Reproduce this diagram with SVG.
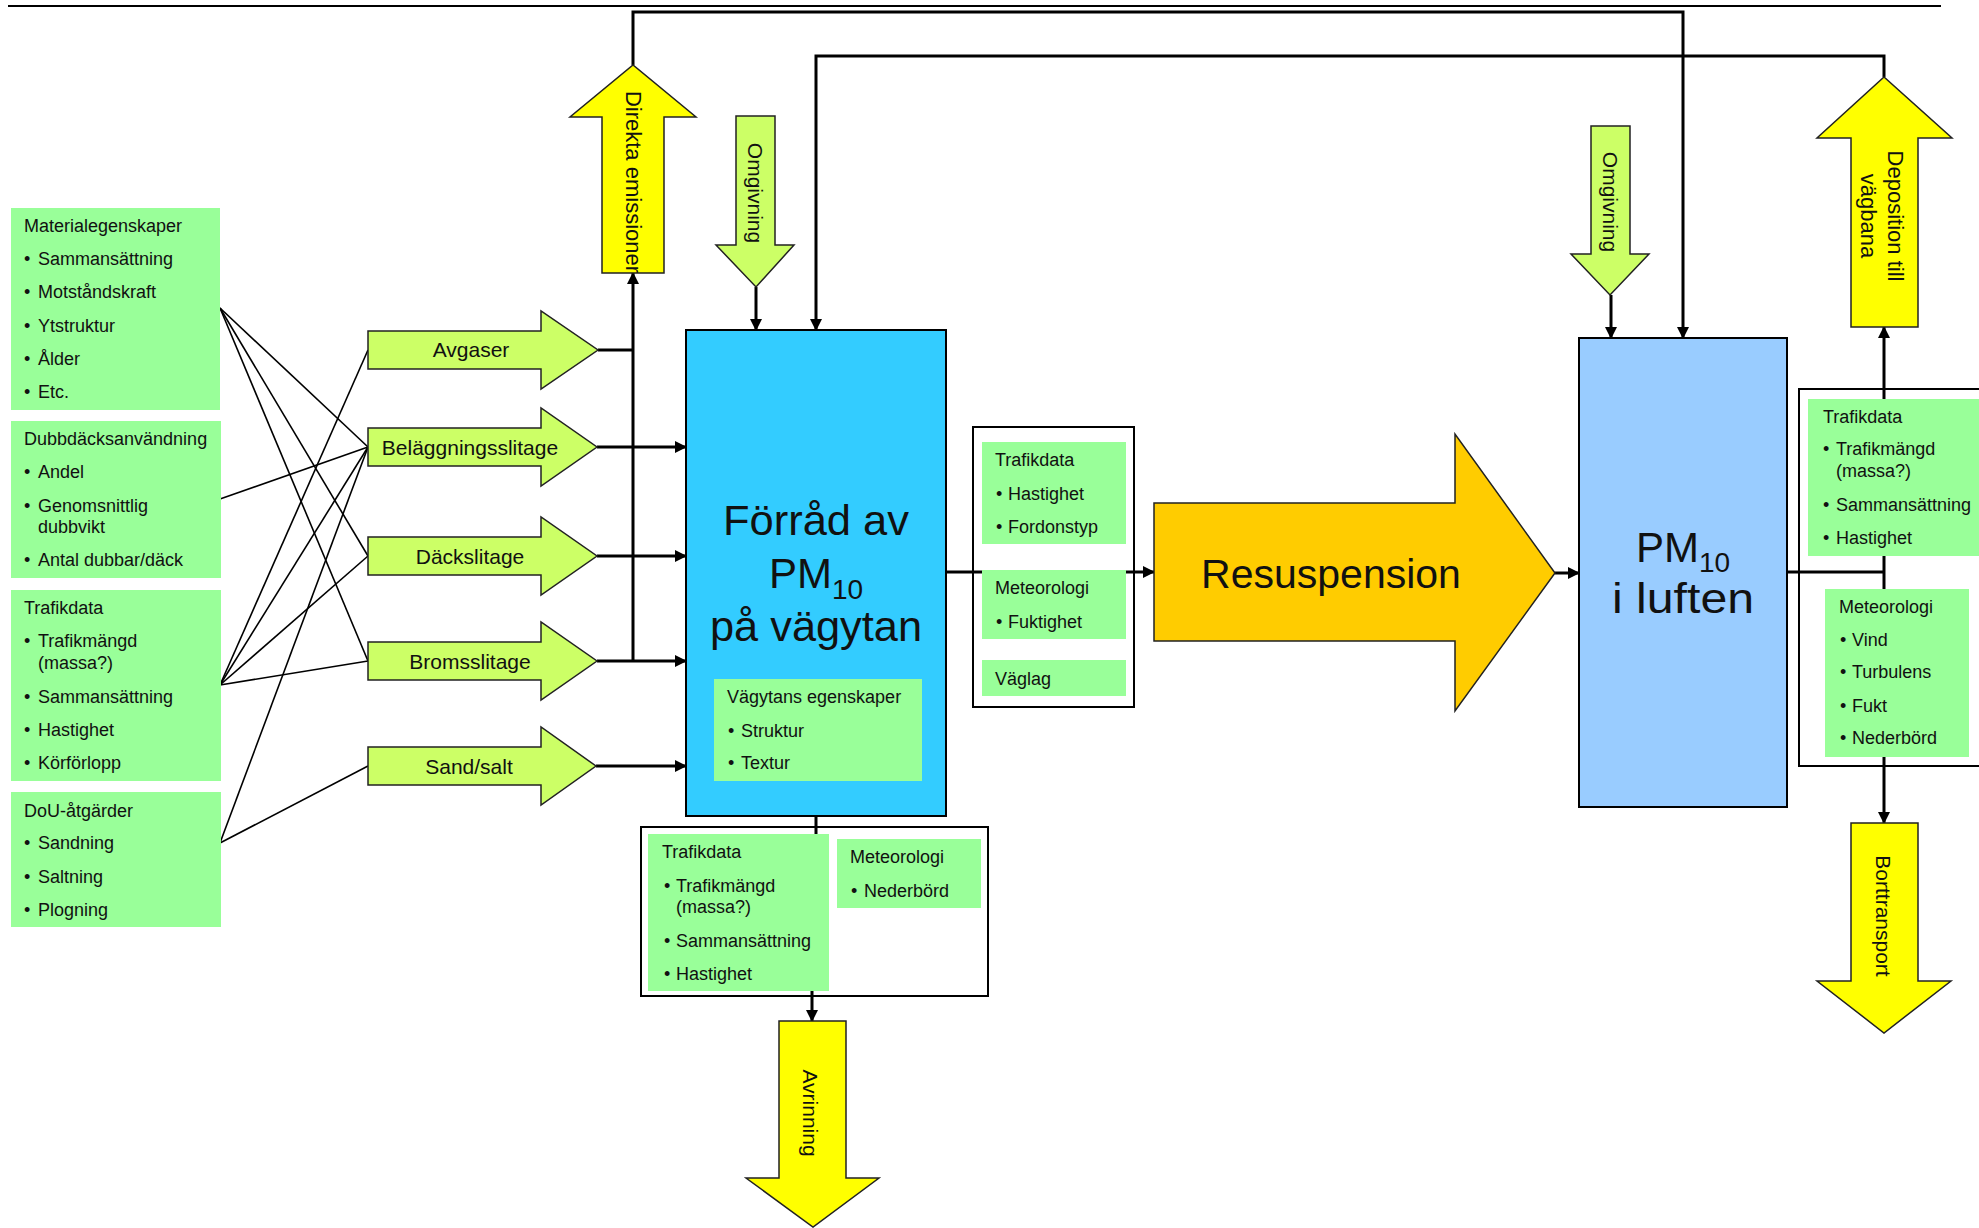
<svg xmlns="http://www.w3.org/2000/svg" width="1979" height="1228" viewBox="0 0 1979 1228">
<defs>
<marker id="ah" markerUnits="userSpaceOnUse" markerWidth="12" markerHeight="12" refX="11" refY="6" orient="auto">
<path d="M0,0 L12,6 L0,12 z" fill="#000"/>
</marker>
<style>
text{font-family:"Liberation Sans",Arial,sans-serif;fill:#111}
.s{font-size:18px}
.a{font-size:21px;text-anchor:middle}
.v{font-size:21px;text-anchor:middle}
.big{font-size:42px;text-anchor:middle}
.gb{fill:#99FF99}
.wb{fill:none;stroke:#000;stroke-width:2}
.ga{fill:#CCFF66;stroke:#222;stroke-width:1.5}
.ya{fill:#FFFF00;stroke:#222;stroke-width:1.5}
.oa{fill:#FFCC00;stroke:#222;stroke-width:1.5}
.c{fill:none;stroke:#000;stroke-width:3}
.ca{fill:none;stroke:#000;stroke-width:3;marker-end:url(#ah)}
.t{fill:none;stroke:#000;stroke-width:1.6}
</style>
</defs>
<rect width="1979" height="1228" fill="#fff"/>
<line x1="8" y1="6" x2="1941" y2="6" stroke="#000" stroke-width="2"/>

<g id="connectors">
<polyline class="ca" points="633,65 633,12 1683,12 1683,338"/>
<polyline class="ca" points="1884,77 1884,56 816,56 816,330"/>
<line class="ca" x1="756" y1="287" x2="756" y2="330"/>
<line class="ca" x1="1611" y1="295" x2="1611" y2="338"/>
<line class="ca" x1="633" y1="662" x2="633" y2="273"/>
<line class="c" x1="598" y1="350" x2="633" y2="350"/>
<line class="ca" x1="597" y1="447" x2="686" y2="447"/>
<line class="ca" x1="597" y1="556" x2="686" y2="556"/>
<line class="ca" x1="597" y1="661" x2="686" y2="661"/>
<line class="ca" x1="596" y1="766" x2="686" y2="766"/>
<line class="ca" x1="946" y1="572" x2="1154" y2="572"/>
<line class="ca" x1="1555" y1="573" x2="1579" y2="573"/>
<line class="c" x1="1787" y1="572" x2="1884" y2="572"/>
<line class="ca" x1="1884" y1="572" x2="1884" y2="327"/>
<line class="ca" x1="1884" y1="572" x2="1884" y2="823"/>
<polyline class="ca" points="816,816 816,900 812,900 812,1021"/>
<line class="t" x1="220" y1="308" x2="368" y2="447"/>
<line class="t" x1="220" y1="308" x2="368" y2="556"/>
<line class="t" x1="220" y1="308" x2="368" y2="661"/>
<line class="t" x1="220" y1="499" x2="368" y2="447"/>
<line class="t" x1="220" y1="685" x2="368" y2="350"/>
<line class="t" x1="220" y1="685" x2="368" y2="447"/>
<line class="t" x1="220" y1="685" x2="368" y2="556"/>
<line class="t" x1="220" y1="685" x2="368" y2="661"/>
<line class="t" x1="220" y1="843" x2="368" y2="447"/>
<line class="t" x1="220" y1="843" x2="368" y2="766"/>
</g>

<g id="materialegenskaper">
<rect class="gb" x="11" y="208" width="209" height="202"/>
<text class="s" x="24" y="232">Materialegenskaper</text>
<text class="s" x="24" y="265">•</text><text class="s" x="38" y="265">Sammansättning</text>
<text class="s" x="24" y="298">•</text><text class="s" x="38" y="298">Motståndskraft</text>
<text class="s" x="24" y="332">•</text><text class="s" x="38" y="332">Ytstruktur</text>
<text class="s" x="24" y="365">•</text><text class="s" x="38" y="365">Ålder</text>
<text class="s" x="24" y="398">•</text><text class="s" x="38" y="398">Etc.</text>
</g>
<g id="dubbdack">
<rect class="gb" x="11" y="421" width="210" height="157"/>
<text class="s" x="24" y="445">Dubbdäcksanvändning</text>
<text class="s" x="24" y="478">•</text><text class="s" x="38" y="478">Andel</text>
<text class="s" x="24" y="512">•</text><text class="s" x="38" y="512">Genomsnittlig</text>
<text class="s" x="38" y="533">dubbvikt</text>
<text class="s" x="24" y="566">•</text><text class="s" x="38" y="566">Antal dubbar/däck</text>
</g>
<g id="trafikdata-left">
<rect class="gb" x="11" y="590" width="210" height="191"/>
<text class="s" x="24" y="614">Trafikdata</text>
<text class="s" x="24" y="647">•</text><text class="s" x="38" y="647">Trafikmängd</text>
<text class="s" x="38" y="669">(massa?)</text>
<text class="s" x="24" y="703">•</text><text class="s" x="38" y="703">Sammansättning</text>
<text class="s" x="24" y="736">•</text><text class="s" x="38" y="736">Hastighet</text>
<text class="s" x="24" y="769">•</text><text class="s" x="38" y="769">Körförlopp</text>
</g>
<g id="dou">
<rect class="gb" x="11" y="792" width="210" height="135"/>
<text class="s" x="24" y="817">DoU-åtgärder</text>
<text class="s" x="24" y="849">•</text><text class="s" x="38" y="849">Sandning</text>
<text class="s" x="24" y="883">•</text><text class="s" x="38" y="883">Saltning</text>
<text class="s" x="24" y="916">•</text><text class="s" x="38" y="916">Plogning</text>
</g>

<g id="avgaser">
<polygon class="ga" points="368,331 541,331 541,311 598,350 541,389 541,369 368,369"/>
<text class="a" x="471" y="357">Avgaser</text>
</g>
<g id="belaggningsslitage">
<polygon class="ga" points="368,428 541,428 541,408 597,447 541,486 541,466 368,466"/>
<text class="a" x="470" y="455">Beläggningsslitage</text>
</g>
<g id="dackslitage">
<polygon class="ga" points="368,537 541,537 541,517 597,556 541,595 541,575 368,575"/>
<text class="a" x="470" y="564">Däckslitage</text>
</g>
<g id="bromsslitage">
<polygon class="ga" points="368,642 541,642 541,622 597,661 541,700 541,680 368,680"/>
<text class="a" x="470" y="669">Bromsslitage</text>
</g>
<g id="sandsalt">
<polygon class="ga" points="368,747 541,747 541,727 596,766 541,805 541,785 368,785"/>
<text class="a" x="469" y="774">Sand/salt</text>
</g>

<g id="direkta-emissioner">
<polygon class="ya" points="602,273 602,117 570,117 633,65 696,117 664,117 664,273"/>
<text class="v" style="font-size:22px" transform="translate(633,182) rotate(90)" x="0" y="7">Direkta emissioner</text>
</g>
<g id="omgivning-1">
<polygon class="ga" points="736,116 775,116 775,245 794,245 756,287 716,245 736,245"/>
<text class="v" transform="translate(755,193) rotate(90)" x="0" y="7">Omgivning</text>
</g>

<g id="forrad">
<rect x="686" y="330" width="260" height="486" fill="#33CCFF" stroke="#000" stroke-width="2"/>
<text class="big" x="816" y="535" textLength="186" lengthAdjust="spacingAndGlyphs">Förråd av</text>
<text class="big" x="816" y="588">PM<tspan font-size="28" dy="11">10</tspan></text>
<text class="big" x="816" y="641" textLength="212" lengthAdjust="spacingAndGlyphs">på vägytan</text>
<rect class="gb" x="714" y="679" width="208" height="102"/>
<text class="s" x="727" y="703">Vägytans egenskaper</text>
<text class="s" x="728" y="737">•</text><text class="s" x="741" y="737">Struktur</text>
<text class="s" x="728" y="769">•</text><text class="s" x="741" y="769">Textur</text>
</g>

<g id="resuspension-faktorer">
<rect class="wb" x="973" y="427" width="161" height="280"/>
<rect class="gb" x="982" y="442" width="144" height="102"/>
<text class="s" x="995" y="466">Trafikdata</text>
<text class="s" x="996" y="500">•</text><text class="s" x="1008" y="500">Hastighet</text>
<text class="s" x="996" y="533">•</text><text class="s" x="1008" y="533">Fordonstyp</text>
<rect class="gb" x="982" y="570" width="144" height="69"/>
<text class="s" x="995" y="594">Meteorologi</text>
<text class="s" x="996" y="628">•</text><text class="s" x="1008" y="628">Fuktighet</text>
<rect class="gb" x="982" y="660" width="144" height="36"/>
<text class="s" x="995" y="685">Väglag</text>
</g>

<g id="resuspension">
<polygon class="oa" points="1154,503 1455,503 1455,434 1555,573 1455,711 1455,641 1154,641"/>
<text x="1331" y="588" style="font-size:41px;text-anchor:middle">Resuspension</text>
</g>

<g id="omgivning-2">
<polygon class="ga" points="1591,126 1630,126 1630,254 1649,254 1610,295 1571,254 1591,254"/>
<text class="v" transform="translate(1610,202) rotate(90)" x="0" y="7">Omgivning</text>
</g>

<g id="pm10-luften">
<rect x="1579" y="338" width="208" height="469" fill="#99CCFF" stroke="#000" stroke-width="2"/>
<text class="big" x="1683" y="562">PM<tspan font-size="28" dy="10">10</tspan></text>
<text class="big" x="1683" y="613" textLength="142" lengthAdjust="spacingAndGlyphs">i luften</text>
</g>

<g id="deposition">
<polygon class="ya" points="1851,327 1851,138 1817,138 1884,77 1952,138 1918,138 1918,327"/>
<text class="v" style="font-size:22px" transform="translate(1884,216) rotate(90)" x="0" y="-4">Deposition till</text>
<text class="v" style="font-size:22px" transform="translate(1884,216) rotate(90)" x="0" y="23">vägbana</text>
</g>

<g id="luften-faktorer">
<rect class="wb" x="1799" y="389" width="200" height="377"/>
<rect class="gb" x="1808" y="399" width="180" height="157"/>
<text class="s" x="1823" y="423">Trafikdata</text>
<text class="s" x="1823" y="455">•</text><text class="s" x="1836" y="455">Trafikmängd</text>
<text class="s" x="1836" y="477">(massa?)</text>
<text class="s" x="1823" y="511">•</text><text class="s" x="1836" y="511">Sammansättning</text>
<text class="s" x="1823" y="544">•</text><text class="s" x="1836" y="544">Hastighet</text>
<rect class="gb" x="1825" y="589" width="144" height="168"/>
<text class="s" x="1839" y="613">Meteorologi</text>
<text class="s" x="1840" y="646">•</text><text class="s" x="1852" y="646">Vind</text>
<text class="s" x="1840" y="678">•</text><text class="s" x="1852" y="678">Turbulens</text>
<text class="s" x="1840" y="712">•</text><text class="s" x="1852" y="712">Fukt</text>
<text class="s" x="1840" y="744">•</text><text class="s" x="1852" y="744">Nederbörd</text>
</g>

<g id="borttransport">
<polygon class="ya" points="1851,823 1918,823 1918,981 1951,981 1884,1033 1817,981 1851,981"/>
<text class="v" transform="translate(1883,916) rotate(90)" x="0" y="7">Borttransport</text>
</g>

<g id="avrinning-faktorer">
<rect class="wb" x="641" y="827" width="347" height="169"/>
<rect class="gb" x="648" y="834" width="181" height="157"/>
<text class="s" x="662" y="858">Trafikdata</text>
<text class="s" x="664" y="892">•</text><text class="s" x="676" y="892">Trafikmängd</text>
<text class="s" x="676" y="913">(massa?)</text>
<text class="s" x="664" y="947">•</text><text class="s" x="676" y="947">Sammansättning</text>
<text class="s" x="664" y="980">•</text><text class="s" x="676" y="980">Hastighet</text>
<rect class="gb" x="837" y="839" width="144" height="69"/>
<text class="s" x="850" y="863">Meteorologi</text>
<text class="s" x="851" y="897">•</text><text class="s" x="864" y="897">Nederbörd</text>
</g>

<g id="avrinning">
<polygon class="ya" points="779,1021 846,1021 846,1178 879,1178 813,1227 746,1178 779,1178"/>
<text class="v" transform="translate(810,1113) rotate(90)" x="0" y="7">Avrinning</text>
</g>
</svg>
